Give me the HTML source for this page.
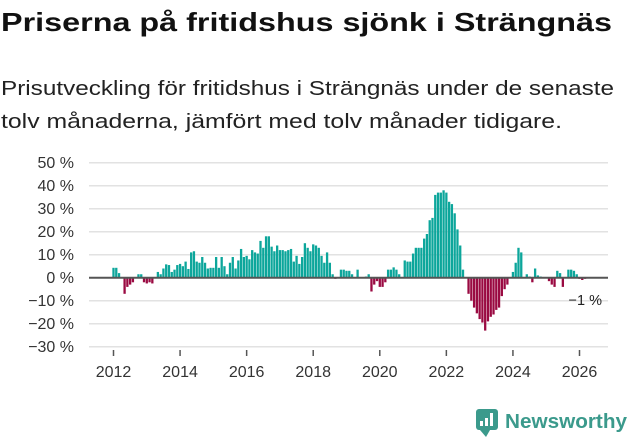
<!DOCTYPE html>
<html><head><meta charset="utf-8"><style>
html,body{margin:0;padding:0;background:#fff;width:631px;height:439px;overflow:hidden}
svg{display:block;font-family:"Liberation Sans","DejaVu Sans",sans-serif}
</style></head><body>
<svg id="chart" width="631" height="439" viewBox="0 0 631 439">
<text x="1" y="31" font-size="26" font-weight="bold" fill="#111" textLength="611" lengthAdjust="spacingAndGlyphs">Priserna på fritidshus sjönk i Strängnäs</text>
<text x="1" y="95" font-size="20" fill="#222" textLength="613" lengthAdjust="spacingAndGlyphs">Prisutveckling för fritidshus i Strängnäs under de senaste</text>
<text x="1" y="128" font-size="20" fill="#222" textLength="561" lengthAdjust="spacingAndGlyphs">tolv månaderna, jämfört med tolv månader tidigare.</text>
<g id="grid"></g><g id="bars"></g><g id="axes"></g>
<g>
<rect x="476" y="409" width="22" height="21" rx="3" fill="#3b9a8c"/>
<path d="M480 430 L486 437 L490 430 Z" fill="#3b9a8c"/>
<rect x="480" y="421" width="3" height="5" fill="#fff"/><rect x="485" y="418" width="3" height="8" fill="#fff"/><rect x="490" y="413" width="3" height="13" fill="#fff"/>
<text x="505" y="428" font-size="20" font-weight="bold" fill="#3b9a8c" textLength="122" lengthAdjust="spacingAndGlyphs">Newsworthy</text>
</g>
</svg>
<script>
const values = [4.3,4.3,2,0,-7,-4,-3,-2,0,1.5,
1.5,-2,-2.5,-2,-2.5,0,2.5,1.5,4,5.8,
5.5,2.5,3.5,5.5,6,5,7,3.8,11,11.5,
7,6.5,9,6.5,4,4.3,4.3,9,4.3,9,
5,1.5,6.5,9,4,7.5,12.5,9,9.5,8,
12,11,10.5,16,13,18,18,13.5,11.5,14,
12,12,11.5,12,12.5,7,9.5,6,9,15,
13,11.5,14.5,14,13,9.5,6.5,11,6.5,1.5,
-0.5,0,3.5,3.5,3,
3,1.5,0,3.5,0,0,0.5,1.5,-6,-3,
-1.5,-4,-4,-2,3.5,3.5,4.5,3.5,1.5,0,
7.5,7,7,10.5,13,13,13,17,19,25,
26,36,37,37,38,37,33,32,28,21,
14,3.5,0,-7,-10,-13,-15.5,-18,-19.5,-23,
-19,-17,-16,-14,-13,-8,-5,-3,0,2.5,
6.5,13,11,0,1.5,0.5,-2,4,1,0.5,
0,0,-1.5,-3,-4,3,2,-4,0,3.5,
3.5,3,1.5,-0.5,-1,-0.5];
const startYear = 2012;
const yTicks = [50,40,30,20,10,0,-10,-20,-30];
const xTickYears = [2012,2014,2016,2018,2020,2022,2024,2026];
const lastLabel = "−1 %";

const NS="http://www.w3.org/2000/svg";
const yScale = v => 277.7 - v*2.3;
const step = 466/168;
const xScale = i => 113.5 + i*step;
function mk(tag, attrs, parent){const e=document.createElementNS(NS,tag);for(const k in attrs)e.setAttribute(k,attrs[k]);parent.appendChild(e);return e;}
const grid=document.getElementById('grid'), bars=document.getElementById('bars'), axes=document.getElementById('axes');
yTicks.forEach(t=>{
  const y=yScale(t);
  if(t!==0){const l=mk('line',{x1:89,x2:608,y1:y,y2:y,stroke:'#e2e2e2','stroke-width':1.5},grid);
  
  }
  const tx=mk('text',{x:74,y:y+5.5,'font-size':16,'text-anchor':'end',fill:'#333'},axes);
  tx.textContent=(t<0?'−'+(-t):t)+' %';
  
  
});
values.forEach((v,i)=>{
  const x=xScale(i), y0=yScale(0), y1=yScale(v);
  const r=mk('rect',{x:x-1.15,width:2.3,y:Math.min(y0,y1),height:Math.max(Math.abs(y1-y0),0.01),fill:v>=0?'#0ca69b':'#9a0a42'},bars);
  
  
});
const z=mk('line',{x1:89,x2:608,y1:yScale(0),y2:yScale(0),stroke:'#555','stroke-width':2},axes);


xTickYears.forEach(yr=>{
  const x=xScale((yr-startYear)*12);
  const tk=mk('line',{x1:x,x2:x,y1:350,y2:356,stroke:'#555','stroke-width':1.5},axes);
  
  
  const tx=mk('text',{x:x,y:377,'font-size':16,'text-anchor':'middle',fill:'#333'},axes);
  tx.textContent=yr;
  
  
});
const ll=mk('text',{x:602,y:305,'font-size':14.5,'text-anchor':'end',fill:'#222'},axes);
ll.textContent=lastLabel;


</script>
</body></html>
